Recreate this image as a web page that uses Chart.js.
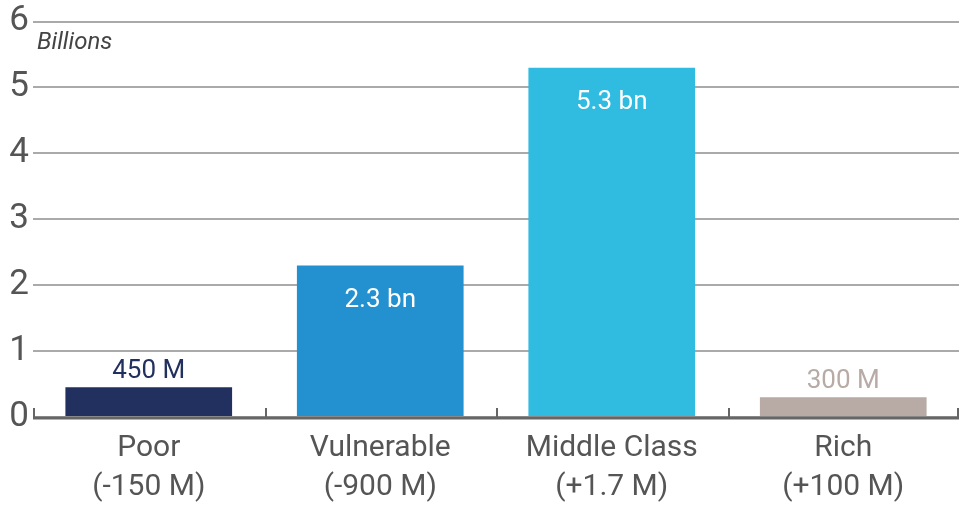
<!DOCTYPE html>
<html lang="en">
<head>
  <meta charset="UTF-8" />
  <title>Population by income class</title>
  <script src="https://cdn.jsdelivr.net/npm/chart.js"></script>
  <style>
    html, body { margin: 0; padding: 0; background: #fff; }
    #wrap { width: 960px; height: 507px; }
  </style>
</head>
<body>
  <div id="wrap"><canvas id="classChart"></canvas></div>

  <script>
    const categories = [["Poor", "(-150 M)"], ["Vulnerable", "(-900 M)"], ["Middle Class", "(+1.7 M)"], ["Rich", "(+100 M)"]];
    const values = [0.45, 2.3, 5.3, 0.3];
    const valueLabels = ["450 M", "2.3 bn", "5.3 bn", "300 M"];
    const barColors = ["#21305e", "#2391cf", "#30bbe0", "#b8aaa5"];
    const yTicks = [0, 1, 2, 3, 4, 5, 6];

    const FONT = "Roboto, 'Noto Sans', sans-serif";

    // value labels: above short bars, inside tall bars
    const labelPlugin = {
      id: "valueLabels",
      afterDatasetsDraw(chart) {
        const ctx = chart.ctx;
        const meta = chart.getDatasetMeta(0);
        ctx.save();
        ctx.font = "26px " + FONT;
        ctx.textAlign = "center";
        ctx.textBaseline = "middle";
        meta.data.forEach((bar, i) => {
          if (values[i] > 1) {
            ctx.fillStyle = "#ffffff";
            ctx.fillText(valueLabels[i], bar.x, bar.y + 35);
          } else {
            ctx.fillStyle = barColors[i];
            ctx.fillText(valueLabels[i], bar.x, bar.y - 16);
          }
        });
        // unit note
        ctx.font = "italic 24px " + FONT;
        ctx.fillStyle = "#444";
        ctx.textAlign = "left";
        ctx.fillText("Billions", chart.chartArea.left + 4, chart.chartArea.top + 21);
        ctx.restore();
      }
    };

    // axis line with upward ticks between categories
    const axisPlugin = {
      id: "axisTicks",
      afterDatasetsDraw(chart) {
        const ctx = chart.ctx;
        const x = chart.scales.x;
        const bottom = chart.chartArea.bottom;
        const n = categories.length;
        ctx.save();
        ctx.strokeStyle = "#666";
        ctx.lineWidth = 2;
        for (let i = 0; i <= n; i++) {
          const px = Math.round(x.left + i * (x.width / n)) + (i === n ? -1 : 1);
          ctx.beginPath();
          ctx.moveTo(px, bottom);
          ctx.lineTo(px, bottom - 9);
          ctx.stroke();
        }
        ctx.lineWidth = 3;
        ctx.beginPath();
        ctx.moveTo(x.left, bottom + 1);
        ctx.lineTo(x.right, bottom + 1);
        ctx.stroke();
        ctx.restore();
      }
    };

    new Chart(document.getElementById("classChart"), {
      type: "bar",
      data: {
        labels: categories,
        datasets: [{
          data: values,
          backgroundColor: barColors,
          barPercentage: 0.72,
          categoryPercentage: 1
        }]
      },
      options: {
        responsive: true,
        maintainAspectRatio: false,
        animation: false,
        layout: { padding: { top: 21, right: 1, left: 0, bottom: 0 } },
        plugins: { legend: { display: false }, tooltip: { enabled: false } },
        scales: {
          x: {
            grid: { display: false },
            border: { display: false },
            ticks: { color: "#555", font: { family: FONT, size: 30, lineHeight: 1.3 }, padding: 4, maxRotation: 0 },
            afterFit(scale) { scale.height = 90; }
          },
          y: {
            min: 0,
            max: 6,
            afterBuildTicks(scale) { scale.ticks = yTicks.map(v => ({ value: v })); },
            grid: { color: "#aaa", lineWidth: 2, drawTicks: false },
            border: { display: false },
            ticks: { color: "#555", font: { family: FONT, size: 35, lineHeight: 1 }, padding: 4, align: "center", crossAlign: "center" },
            afterFit(scale) { scale.width = 33; }
          }
        }
      },
      plugins: [labelPlugin, axisPlugin]
    });
  </script>
</body>
</html>
